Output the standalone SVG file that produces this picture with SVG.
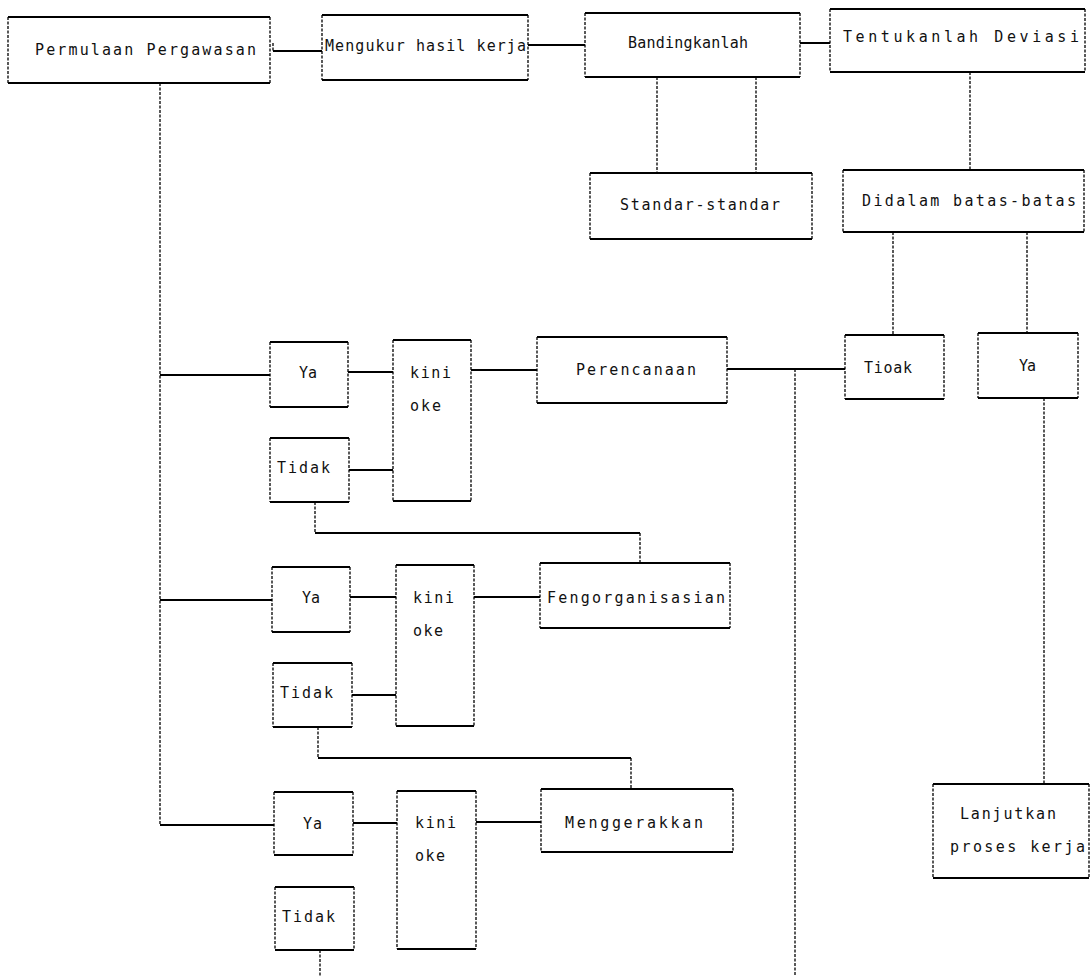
<svg xmlns="http://www.w3.org/2000/svg" width="1091" height="976" viewBox="0 0 1091 976">
<style>
  .bg{fill:#ffffff;stroke:none}
  .h{fill:none;stroke:#000;stroke-width:2}
  .v{fill:none;stroke:#000;stroke-width:1.3;stroke-dasharray:3 1.5}
  .ch{fill:none;stroke:#000;stroke-width:2}
  .cv{fill:none;stroke:#000;stroke-width:1.3;stroke-dasharray:3 1.5}
  text{font-family:"DejaVu Sans Mono","Liberation Mono",monospace;font-size:15px;fill:#111}
</style>
<rect width="1091" height="976" fill="#ffffff"/>

<g id="connectors">
  <path class="cv" d="M273,43 V51"/>
  <path class="ch" d="M273,51 H322"/>
  <path class="ch" d="M528,45 H585"/>
  <path class="ch" d="M800,43 H830"/>
  <path class="cv" d="M657,77 V173 M756,77 V173"/>
  <path class="cv" d="M970,72 V170"/>
  <path class="cv" d="M893,232 V335 M1027,232 V333"/>
  <path class="cv" d="M1044,398 V784"/>
  <path class="ch" d="M727,369 H845"/>
  <path class="cv" d="M795,369 V976"/>
  <path class="cv" d="M160,83 V825"/>
  <!-- row 1 -->
  <path class="ch" d="M160,375 H270"/>
  <path class="ch" d="M348,372 H393"/>
  <path class="ch" d="M471,370 H537"/>
  <path class="ch" d="M349,470 H393"/>
  <path class="cv" d="M315,502 V533 M640,533 V563"/>
  <path class="ch" d="M315,533 H640"/>
  <!-- row 2 -->
  <path class="ch" d="M160,600 H272"/>
  <path class="ch" d="M350,597 H396"/>
  <path class="ch" d="M474,597 H540"/>
  <path class="ch" d="M352,695 H396"/>
  <path class="cv" d="M318,727 V758 M631,758 V789"/>
  <path class="ch" d="M318,758 H631"/>
  <!-- row 3 -->
  <path class="ch" d="M160,825 H274"/>
  <path class="ch" d="M353,823 H397"/>
  <path class="ch" d="M476,822 H541"/>
  <path class="cv" d="M320,950 V976"/>
</g>

<g id="permulaan">
  <rect class="bg" x="8" y="17" width="262" height="66"/>
  <path class="h" d="M8,17 H270 M8,83 H270"/><path class="v" d="M8,17 V83 M270,17 V83"/>
  <text x="35" y="55" textLength="221">Permulaan Pergawasan</text>
</g>
<g id="mengukur">
  <rect class="bg" x="322" y="15" width="206" height="65"/>
  <path class="h" d="M322,15 H528 M322,80 H528"/><path class="v" d="M322,15 V80 M528,15 V80"/>
  <text x="325" y="51" textLength="201">Mengukur hasil kerja</text>
</g>
<g id="bandingkanlah">
  <rect class="bg" x="585" y="13" width="215" height="64"/>
  <path class="h" d="M585,13 H800 M585,77 H800"/><path class="v" d="M585,13 V77 M800,13 V77"/>
  <text x="628" y="48" textLength="120">Bandingkanlah</text>
</g>
<g id="tentukanlah">
  <rect class="bg" x="830" y="9" width="255" height="63"/>
  <path class="h" d="M830,9 H1085 M830,72 H1085"/><path class="v" d="M830,9 V72 M1085,9 V72"/>
  <text x="843" y="42" textLength="236">Tentukanlah Deviasi</text>
</g>
<g id="standar">
  <rect class="bg" x="590" y="173" width="222" height="66"/>
  <path class="h" d="M590,173 H812 M590,239 H812"/><path class="v" d="M590,173 V239 M812,173 V239"/>
  <text x="620" y="210" textLength="160">Standar-standar</text>
</g>
<g id="didalam">
  <rect class="bg" x="843" y="170" width="241" height="62"/>
  <path class="h" d="M843,170 H1084 M843,232 H1084"/><path class="v" d="M843,170 V232 M1084,170 V232"/>
  <text x="862" y="206" textLength="214">Didalam batas-batas</text>
</g>
<g id="tioak">
  <rect class="bg" x="845" y="335" width="99" height="64"/>
  <path class="h" d="M845,335 H944 M845,399 H944"/><path class="v" d="M845,335 V399 M944,335 V399"/>
  <text x="864" y="373" textLength="48">Tioak</text>
</g>
<g id="ya-kanan">
  <rect class="bg" x="978" y="333" width="100" height="65"/>
  <path class="h" d="M978,333 H1078 M978,398 H1078"/><path class="v" d="M978,333 V398 M1078,333 V398"/>
  <text x="1019" y="371" textLength="17">Ya</text>
</g>
<g id="perencanaan">
  <rect class="bg" x="537" y="337" width="190" height="66"/>
  <path class="h" d="M537,337 H727 M537,403 H727"/><path class="v" d="M537,337 V403 M727,337 V403"/>
  <text x="576" y="375" textLength="120">Perencanaan</text>
</g>
<g id="lanjutkan">
  <rect class="bg" x="933" y="784" width="156" height="94"/>
  <path class="h" d="M933,784 H1089 M933,878 H1089"/><path class="v" d="M933,784 V878 M1089,784 V878"/>
  <text x="960" y="819" textLength="96">Lanjutkan</text>
  <text x="950" y="852" textLength="135">proses kerja</text>
</g>

<g id="ya-1">
  <rect class="bg" x="270" y="342" width="78" height="65"/>
  <path class="h" d="M270,342 H348 M270,407 H348"/><path class="v" d="M270,342 V407 M348,342 V407"/>
  <text x="299" y="378" textLength="18">Ya</text>
</g>
<g id="kini-1">
  <rect class="bg" x="393" y="340" width="78" height="161"/>
  <path class="h" d="M393,340 H471 M393,501 H471"/><path class="v" d="M393,340 V501 M471,340 V501"/>
  <text x="410" y="378" textLength="41">kini</text>
  <text x="410" y="411" textLength="31">oke</text>
</g>
<g id="tidak-1">
  <rect class="bg" x="270" y="438" width="79" height="64"/>
  <path class="h" d="M270,438 H349 M270,502 H349"/><path class="v" d="M270,438 V502 M349,438 V502"/>
  <text x="277" y="473" textLength="53">Tidak</text>
</g>

<g id="ya-2">
  <rect class="bg" x="272" y="567" width="78" height="65"/>
  <path class="h" d="M272,567 H350 M272,632 H350"/><path class="v" d="M272,567 V632 M350,567 V632"/>
  <text x="302" y="603" textLength="18">Ya</text>
</g>
<g id="kini-2">
  <rect class="bg" x="396" y="565" width="78" height="161"/>
  <path class="h" d="M396,565 H474 M396,726 H474"/><path class="v" d="M396,565 V726 M474,565 V726"/>
  <text x="413" y="603" textLength="41">kini</text>
  <text x="413" y="636" textLength="30">oke</text>
</g>
<g id="tidak-2">
  <rect class="bg" x="273" y="663" width="79" height="64"/>
  <path class="h" d="M273,663 H352 M273,727 H352"/><path class="v" d="M273,663 V727 M352,663 V727"/>
  <text x="280" y="698" textLength="53">Tidak</text>
</g>
<g id="pengorganisasian">
  <rect class="bg" x="540" y="563" width="190" height="65"/>
  <path class="h" d="M540,563 H730 M540,628 H730"/><path class="v" d="M540,563 V628 M730,563 V628"/>
  <text x="547" y="603" textLength="178">Fengorganisasian</text>
</g>

<g id="ya-3">
  <rect class="bg" x="274" y="792" width="79" height="63"/>
  <path class="h" d="M274,792 H353 M274,855 H353"/><path class="v" d="M274,792 V855 M353,792 V855"/>
  <text x="303" y="829" textLength="19">Ya</text>
</g>
<g id="kini-3">
  <rect class="bg" x="397" y="791" width="79" height="158"/>
  <path class="h" d="M397,791 H476 M397,949 H476"/><path class="v" d="M397,791 V949 M476,791 V949"/>
  <text x="415" y="828" textLength="41">kini</text>
  <text x="415" y="861" textLength="30">oke</text>
</g>
<g id="tidak-3">
  <rect class="bg" x="275" y="887" width="79" height="63"/>
  <path class="h" d="M275,887 H354 M275,950 H354"/><path class="v" d="M275,887 V950 M354,887 V950"/>
  <text x="282" y="922" textLength="53">Tidak</text>
</g>
<g id="menggerakkan">
  <rect class="bg" x="541" y="789" width="192" height="63"/>
  <path class="h" d="M541,789 H733 M541,852 H733"/><path class="v" d="M541,789 V852 M733,789 V852"/>
  <text x="565" y="828" textLength="138">Menggerakkan</text>
</g>
</svg>
